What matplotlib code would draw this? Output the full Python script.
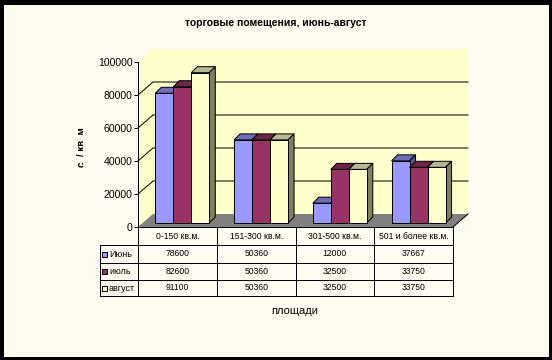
import matplotlib
matplotlib.use('Agg')
import matplotlib.pyplot as plt
from matplotlib.patches import Polygon, Rectangle

plt.rcParams['font.family'] = ['Liberation Sans', 'DejaVu Sans']

categories = ['0-150 кв.м.', '151-300 кв.м.', '301-500 кв.м.', '501 и более кв.м.']
series_names = ['Июнь', 'июль', 'август']
june = [78600, 50360, 12000, 37667]
july = [82600, 50360, 32500, 33750]
august = [91100, 50360, 32500, 33750]
y_ticks = [0, 20000, 40000, 60000, 80000, 100000]

# colours: front, top, side
colors = [('#9999ff', '#6e6eb8', '#55558f'),
          ('#993366', '#6e2549', '#551c39'),
          ('#ffffcc', '#b8b893', '#808060')]
bg = '#fffbf0'
wall = '#ffffcc'
lw = 0.72   # one pixel at dpi 100

W, H = 552, 360
# plot box in pixels, measured from the top left
left, right, top, bottom = 138, 453, 62, 227
px_x = 4 / (right - left)          # one pixel in category units
px_y = 100000 / (bottom - top)     # one pixel in value units

fig = plt.figure(figsize=(W / 100, H / 100), dpi=100, facecolor='black')
# black frame around the sheet: 4 left, 5 top, 3 right, 3 bottom
fig.add_artist(Rectangle((4 / W, 3 / H), (W - 7) / W, (H - 8) / H, transform=fig.transFigure,
                         facecolor=bg, edgecolor='none', zorder=-1))

ax = fig.add_axes([left / W, 1 - bottom / H, (right - left) / W, (bottom - top) / H])
ax.set_xlim(0, 4)
ax.set_ylim(0, 100000)
ax.patch.set_visible(False)
for name in ['top', 'right', 'bottom']:
    ax.spines[name].set_visible(False)
ax.spines['left'].set_linewidth(lw)
ax.spines['left'].set_zorder(20)
ax.set_xticks([])
ax.set_yticks(y_ticks)
ax.tick_params(axis='y', length=3, width=lw, pad=1, labelsize=7.6)

# ------------------------------------------------------------
# 3D box: wall, floor, gridlines
# ------------------------------------------------------------
back_x = 15 * px_x
back_y = 13 * px_y


def poly(points, **kw):
    kw.setdefault('edgecolor', 'none')
    p = Polygon(points, closed=True, clip_on=False, **kw)
    ax.add_patch(p)
    return p


poly([(0, 0), (0, 100000), (back_x, 100000 + back_y), (4 + back_x, 100000 + back_y),
      (4 + back_x, back_y), (4, 0)], facecolor=wall, zorder=0)
poly([(0, 0), (back_x, back_y), (4 + back_x, back_y), (4, 0)], facecolor='#808080', zorder=0.5)

for t in y_ticks[1:-1]:
    ax.plot([0, back_x, 4 + back_x], [t, t + back_y, t + back_y], color='black', lw=lw,
            clip_on=False, zorder=1, solid_joinstyle='miter')
ax.plot([4, 4 + back_x], [0, back_y], color='black', lw=lw, clip_on=False, zorder=1)
ax.plot([0, 4], [0, 0], color='black', lw=lw, clip_on=False, zorder=1)

# ------------------------------------------------------------
# Bars
# ------------------------------------------------------------
bar_w = 18 * px_x
base = 4 * px_y
dep_x = 6 * px_x
dep_y = 6 * px_y
start = 17.3 * px_x

for c in range(len(categories)):
    for s, values in enumerate([june, july, august]):
        front, top_c, side = colors[s]
        x0 = c + start + s * bar_w
        v = values[c]
        z = 3 + c + s * 0.1
        y1 = base + v
        poly([(x0, y1), (x0 + dep_x, y1 + dep_y), (x0 + bar_w + dep_x, y1 + dep_y), (x0 + bar_w, y1)],
             facecolor=top_c, edgecolor='black', linewidth=lw, zorder=z)
        poly([(x0 + bar_w, base), (x0 + bar_w + dep_x, base + dep_y), (x0 + bar_w + dep_x, y1 + dep_y),
              (x0 + bar_w, y1)], facecolor=side, edgecolor='black', linewidth=lw, zorder=z)
        ax.bar(x0, v, bar_w, bottom=base, align='edge', facecolor=front, edgecolor='black',
               linewidth=lw, zorder=z + 0.02, clip_on=False)

# ------------------------------------------------------------
# Data table under the plot
# ------------------------------------------------------------
tab = fig.add_axes([0, 0, 1, 1])
tab.set_xlim(0, W)
tab.set_ylim(H, 0)
tab.axis('off')
tab.patch.set_visible(False)

col_x = [138 + 78.75 * i for i in range(5)]
row_y = [227, 245, 263, 280, 296]
tab.plot([99.5, 99.5], [245, 296], color='black', lw=lw)
for x in col_x:
    tab.plot([x, x], [227, 296], color='black', lw=lw)
for y in row_y[1:]:
    tab.plot([99.5, 453], [y, y], color='black', lw=lw)

for i, cat in enumerate(categories):
    cx = col_x[i] + 39.4
    tab.text(cx, 236.5, cat, ha='center', va='center', fontsize=6.2, color='black')
    for r, values in enumerate([june, july, august]):
        tab.text(cx, (row_y[r + 1] + row_y[r + 2]) / 2, str(values[i]), ha='center', va='center',
                 fontsize=6.2, color='black')

for r, name in enumerate(series_names):
    cy = (row_y[r + 1] + row_y[r + 2]) / 2
    tab.add_patch(Rectangle((101.5, cy - 2.5), 5, 5, facecolor=colors[r][0], edgecolor='black', lw=lw))
    tab.text(109, cy + 0.5, name, ha='left', va='center', fontsize=6.5, color='black')

# ------------------------------------------------------------
# Titles
# ------------------------------------------------------------
tab.text(275.5, 23.5, 'торговые помещения, июнь-август', ha='center', va='center',
         fontsize=7.5, fontweight='bold', color='black')
tab.text(294.5, 311, 'площади', ha='center', va='center', fontsize=8, color='black')

# axis label is cut off in the source, only its left part shows
label = tab.text(82, 147, 'с. / кв. м', ha='center', va='center', rotation=90,
                 fontsize=7, fontweight='bold', color='black')
label.set_clip_on(True)
label.set_clip_path(Rectangle((76, 120), 6.5, 60, transform=tab.transData))

fig.savefig('out.png', dpi=100, facecolor=fig.get_facecolor())
